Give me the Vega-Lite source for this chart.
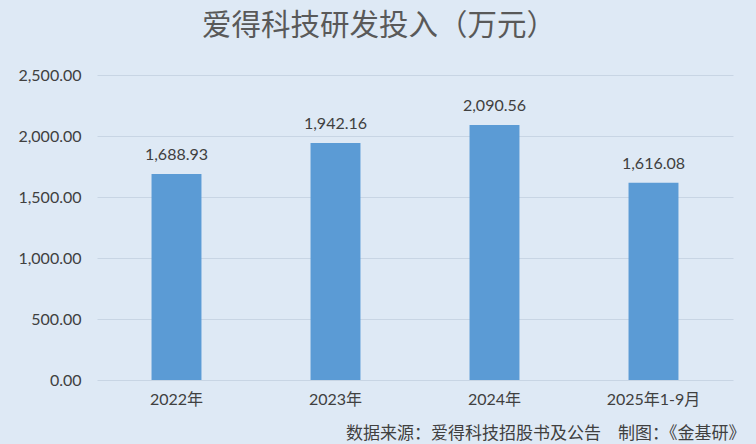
{
  "$schema": "https://vega.github.io/schema/vega-lite/v6.json",
  "width": 636,
  "height": 305,
  "autosize": {"type": "none"},
  "padding": {"left": 97, "top": 75, "right": 23, "bottom": 64},
  "background": "#dee9f5",
  "title": {
    "text": "爱得科技研发投入（万元）",
    "font": "Noto Sans CJK SC",
    "fontSize": 29.5,
    "fontWeight": "normal",
    "color": "#595959",
    "offset": 26,
    "dx": -36
  },
  "data": {
    "values": [
      {"period": "2022年", "value": 1688.93},
      {"period": "2023年", "value": 1942.16},
      {"period": "2024年", "value": 2090.56},
      {"period": "2025年1-9月", "value": 1616.08}
    ]
  },
  "encoding": {
    "x": {
      "field": "period",
      "type": "nominal",
      "sort": null,
      "scale": {"paddingInner": 0.686, "paddingOuter": 0.343},
      "axis": {
        "title": "数据来源：爱得科技招股书及公告　制图：《金基研》",
        "titleFont": "Noto Sans CJK SC",
        "titleFontSize": 17,
        "titleFontWeight": "normal",
        "titleColor": "#404040",
        "titleAnchor": "end",
        "titleAlign": "right",
        "titleBaseline": "middle",
        "titleX": 648,
        "titleY": 53,
        "labelAngle": 0,
        "labelFont": "Lato, Noto Sans CJK SC",
        "labelFontSize": 16,
        "labelColor": "#404040",
        "labelPadding": 11,
        "domain": false,
        "ticks": false,
        "grid": false
      }
    },
    "y": {
      "field": "value",
      "type": "quantitative",
      "scale": {"domain": [0, 2500]},
      "axis": {
        "title": null,
        "values": [0, 500, 1000, 1500, 2000, 2500],
        "format": ",.2f",
        "labelFont": "Lato",
        "labelFontSize": 16,
        "labelColor": "#404040",
        "labelPadding": 16,
        "domain": false,
        "ticks": false,
        "grid": true,
        "gridColor": "#c8d5e4",
        "gridWidth": 1
      }
    }
  },
  "layer": [
    {"mark": {"type": "bar", "color": "#5b9bd5"}},
    {
      "mark": {
        "type": "text",
        "baseline": "bottom",
        "dy": -11,
        "font": "Lato",
        "fontSize": 16,
        "color": "#404040"
      },
      "encoding": {"text": {"field": "value", "type": "quantitative", "format": ",.2f"}}
    }
  ],
  "config": {"view": {"stroke": null}}
}
